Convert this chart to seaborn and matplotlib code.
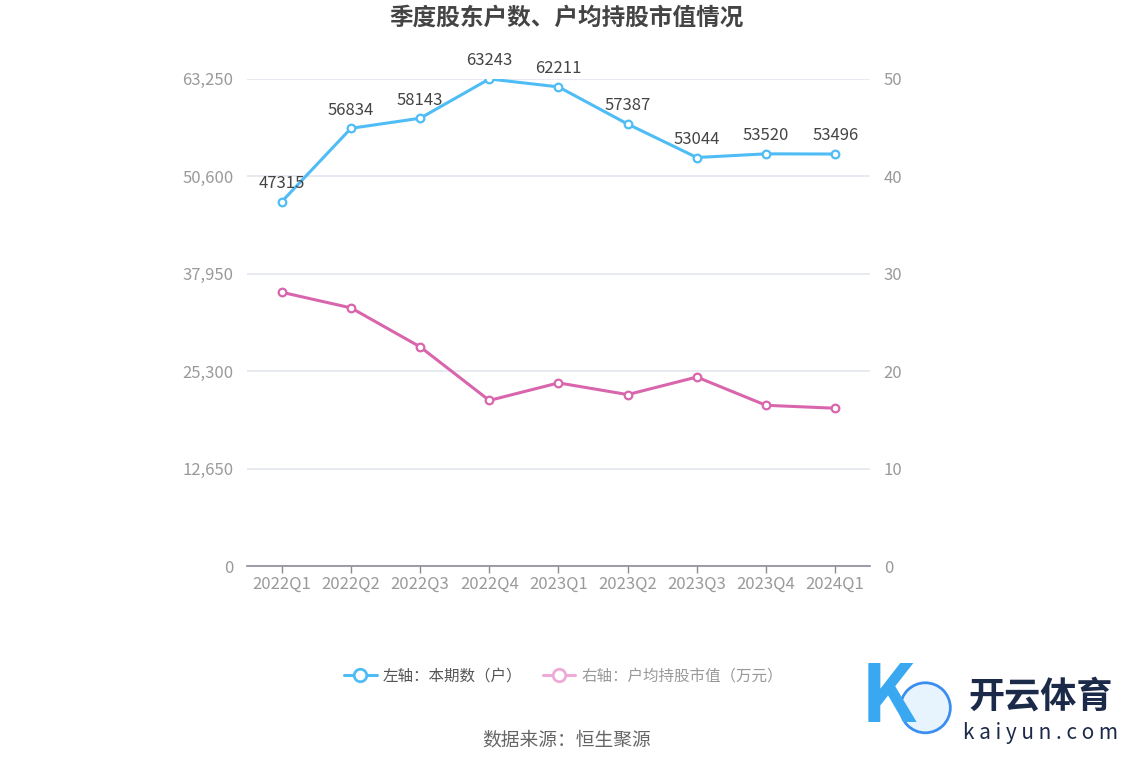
import matplotlib
matplotlib.use("Agg")
import matplotlib.pyplot as plt
import seaborn as sns
import pandas as pd
from matplotlib.lines import Line2D
from matplotlib.patches import Ellipse

categories = ["2022Q1", "2022Q2", "2022Q3", "2022Q4", "2023Q1", "2023Q2", "2023Q3", "2023Q4", "2024Q1"]
holders = [47315, 56834, 58143, 63243, 62211, 57387, 53044, 53520, 53496]
avg_value = [28.1, 26.5, 22.5, 17.0, 18.8, 17.6, 19.4, 16.5, 16.2]
left_ticks = [0, 12650, 25300, 37950, 50600, 63250]
right_ticks = [0, 10, 20, 30, 40, 50]

sns.set_theme(style="white")
plt.rcParams['font.family'] = ['Noto Sans CJK SC', 'DejaVu Sans']

blue = "#4fbdf5"
pink = "#d966ad"
tick_color = "#9a9a9a"
grid_color = "#e3e6ef"

df = pd.DataFrame({"q": categories, "x": range(len(categories)), "holders": holders, "avg": avg_value})

fig = plt.figure(figsize=(11.34, 7.66), dpi=100)
ax = fig.add_axes([0.218, 0.261, 0.549, 0.636])
ax2 = ax.twinx()

sns.lineplot(data=df, x="x", y="holders", ax=ax, color=blue, linewidth=2.2,
             marker="o", markersize=5.5, markerfacecolor="white",
             markeredgecolor=blue, markeredgewidth=1.6, zorder=5)
sns.lineplot(data=df, x="x", y="avg", ax=ax2, color=pink, linewidth=2.2,
             marker="o", markersize=5.5, markerfacecolor="white",
             markeredgecolor=pink, markeredgewidth=1.6, zorder=5)

ax.set_xlim(-0.5, len(categories) - 0.5)
ax.set_ylim(0, 63250)
ax2.set_ylim(0, 50)
ax.set_yticks(left_ticks)
ax.set_yticklabels([f"{v:,}" for v in left_ticks])
ax2.set_yticks(right_ticks)
ax2.set_yticklabels([str(v) for v in right_ticks])
ax.set_xticks(range(len(categories)))
ax.set_xticklabels(categories)

for a in (ax, ax2):
    a.set_xlabel("")
    a.set_ylabel("")
    for s in a.spines.values():
        s.set_visible(False)
ax.spines["bottom"].set_visible(True)
ax.spines["bottom"].set_color("#8c8c99")
ax.spines["bottom"].set_linewidth(1.2)

ax.grid(axis="y", color=grid_color, linewidth=1.2)
ax.set_axisbelow(True)
ax.tick_params(axis="y", colors=tick_color, labelsize=12, length=0, pad=10)
ax2.tick_params(axis="y", colors=tick_color, labelsize=12, length=0, pad=10)
ax.tick_params(axis="x", colors="#8c8c99", labelcolor=tick_color, labelsize=12,
               length=5, width=1, direction="out", bottom=True, pad=2)

for i, v in enumerate(holders):
    ax.annotate(str(v), (i, v), xytext=(0, 7), textcoords="offset points",
                ha="center", va="bottom", fontsize=12, color="#444444", zorder=6)

fig.text(0.5, 0.977, "季度股东户数、户均持股市值情况", ha="center", va="center",
         fontsize=17, fontweight="bold", color="#444444")

handles = [
    Line2D([0], [0], color=blue, linewidth=2.2, marker="o", markersize=9,
           markerfacecolor="white", markeredgecolor=blue, markeredgewidth=2),
    Line2D([0], [0], color="#eeaad6", linewidth=2.2, marker="o", markersize=9,
           markerfacecolor="white", markeredgecolor="#eeaad6", markeredgewidth=2),
]
leg = fig.legend(handles, ["左轴：本期数（户）", "右轴：户均持股市值（万元）"],
                 loc="center", bbox_to_anchor=(0.497, 0.118), ncol=2, frameon=False,
                 fontsize=11.2, handlelength=2.1, columnspacing=1.3, handletextpad=0.4)
leg.get_texts()[0].set_color("#555555")
leg.get_texts()[1].set_color("#999999")

fig.text(0.5, 0.034, "数据来源：恒生聚源", ha="center", va="center", fontsize=13.5, color="#666666")

# watermark approximation
fig.text(0.918, 0.090, "开云体育", ha="center", va="center", fontsize=26,
         fontweight="bold", color="#1c2a4a")
fig.text(0.918, 0.043, "k a i y u n . c o m", ha="center", va="center", fontsize=15, color="#1c2a4a")
fig.text(0.783, 0.088, "K", ha="center", va="center", fontsize=58, fontstyle="italic",
         fontweight="bold", color="#3aa8f0")
fig.patches.append(Ellipse((0.816, 0.076), 50 / 1134, 50 / 766, transform=fig.transFigure,
                           facecolor="#e8f4fd", edgecolor="#3a8ef0", linewidth=2))

fig.savefig("out.png", dpi=100)
